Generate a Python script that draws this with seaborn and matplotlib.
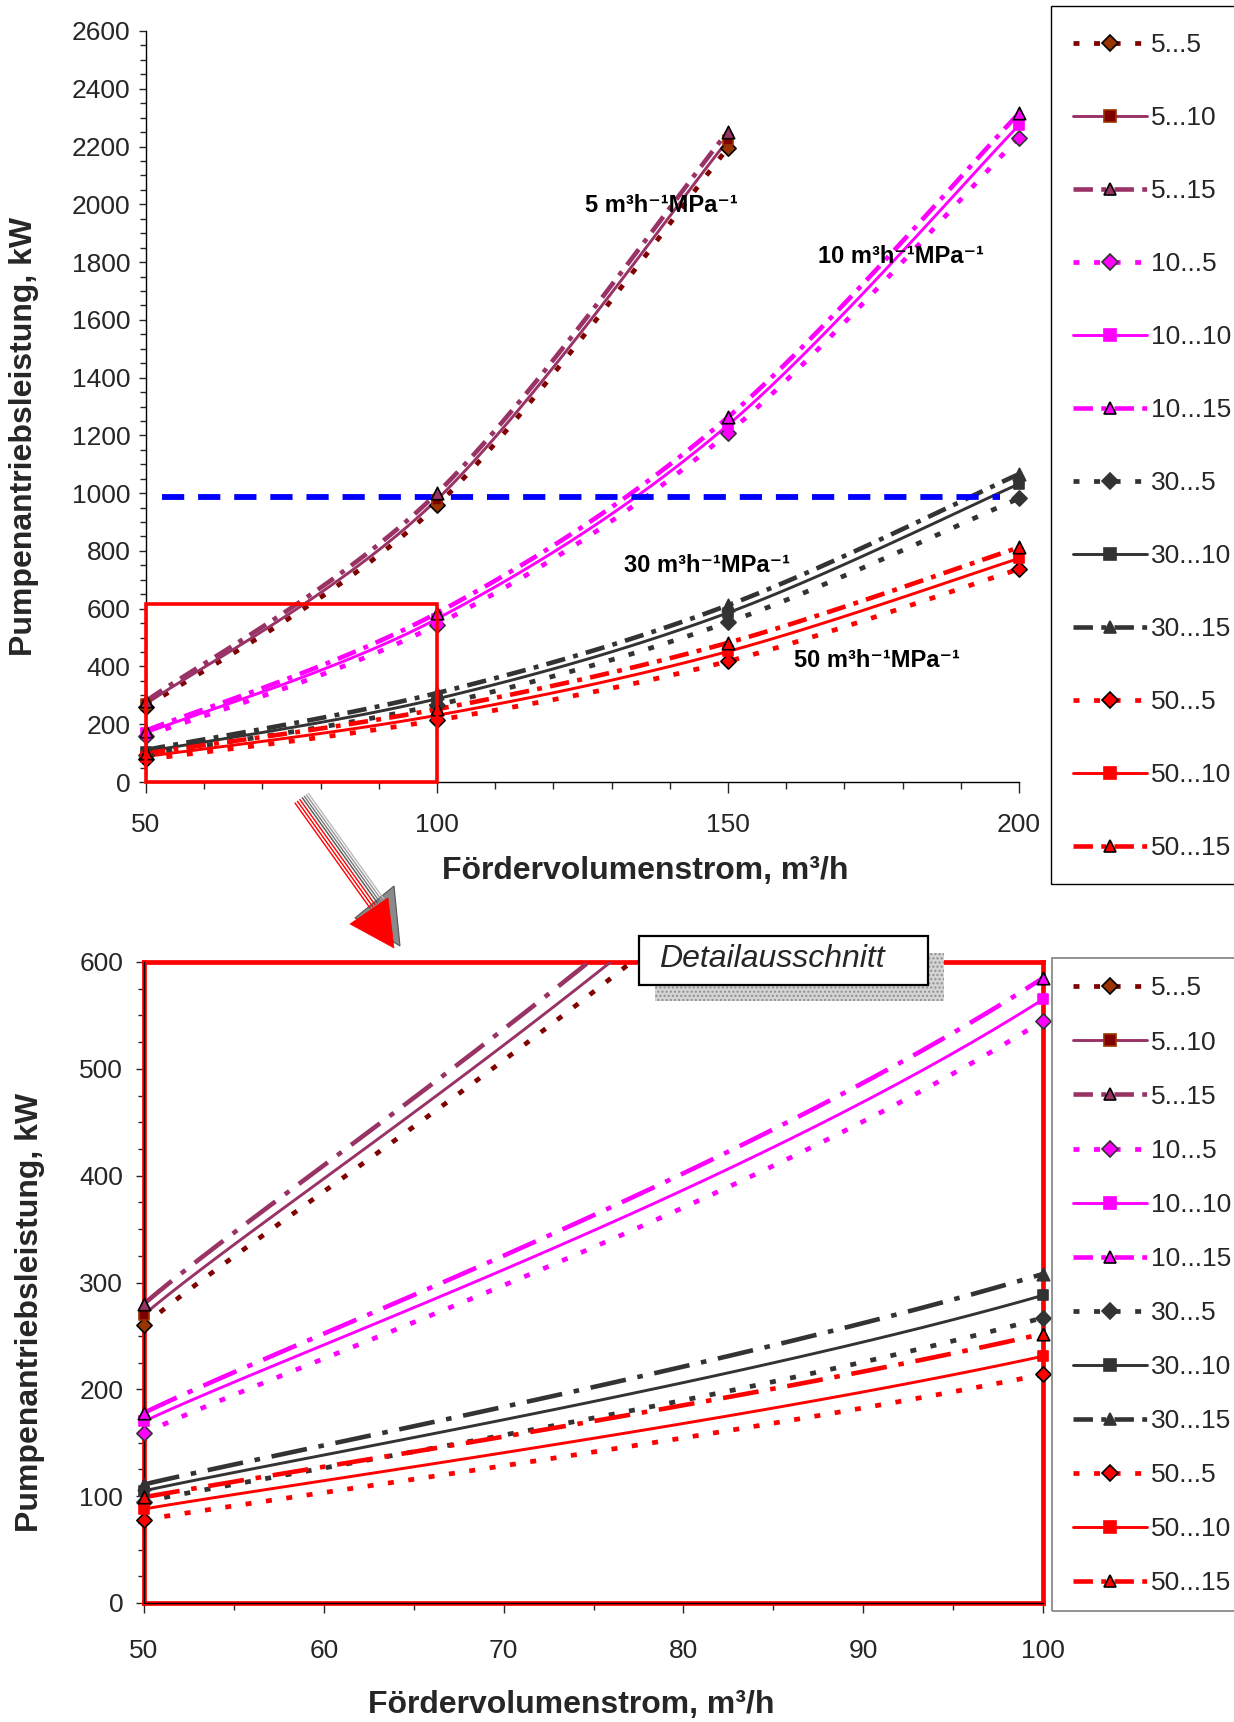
import numpy as np
import matplotlib
matplotlib.use("Agg")
import matplotlib.pyplot as plt
import seaborn as sns
from matplotlib.patches import Rectangle, Polygon
from matplotlib.lines import Line2D
from matplotlib.ticker import MultipleLocator

sns.set_style("ticks")
plt.rcParams['font.family'] = ['Liberation Sans', 'DejaVu Sans']
plt.rcParams['lines.scale_dashes'] = False

# Fördervolumenstrom, m³/h
flow = [50, 100, 150, 200]

# Pumpenantriebsleistung, kW  (Reihe: Durchlässigkeit ... Druck)
p_5_5 = [260, 958, 2195]
p_5_10 = [270, 978, 2222]
p_5_15 = [280, 1000, 2252]
p_10_5 = [159, 545, 1208, 2231]
p_10_10 = [170, 565, 1236, 2274]
p_10_15 = [178, 585, 1263, 2315]
p_30_5 = [95, 267, 553, 982]
p_30_10 = [105, 288, 586, 1032]
p_30_15 = [111, 308, 612, 1066]
p_50_5 = [78, 214, 418, 737]
p_50_10 = [88, 231, 452, 774]
p_50_15 = [99, 252, 482, 812]

series_labels = ["5...5", "5...10", "5...15", "10...5", "10...10", "10...15",
                 "30...5", "30...10", "30...15", "50...5", "50...10", "50...15"]
series_values = [p_5_5, p_5_10, p_5_15, p_10_5, p_10_10, p_10_15,
                 p_30_5, p_30_10, p_30_15, p_50_5, p_50_10, p_50_15]

group_labels = ["5 m³h⁻¹MPa⁻¹", "10 m³h⁻¹MPa⁻¹", "30 m³h⁻¹MPa⁻¹", "50 m³h⁻¹MPa⁻¹"]
power_limit = 988

# ---- styles ---------------------------------------------------------------
MAROON, PLUM, MAG, GRAY, RED = '#800000', '#993366', '#FF00FF', '#333333', '#FF0000'

# line kinds: dotted (…5), solid (…10), dash-dot (…15)
LINE_TOP = {
    'dot': ((0, (4.3, 10.5)), 3.4),
    'solid': ('-', 2.1),
    'dashdot': ((0, (14, 6, 3.5, 6)), 3.3),
}
LINE_DETAIL = {
    'dot': ((0, (4.3, 10.5)), 3.4),
    'solid': ('-', 2.1),
    'dashdot': ((0, (26, 8.5, 4, 8.5)), 3.3),
}

styles = [
    (MAROON, 'dot', 'D', '#993300', 'black'),
    (PLUM, 'solid', 's', '#800000', '#993300'),
    (PLUM, 'dashdot', '^', PLUM, 'black'),
    (MAG, 'dot', 'D', MAG, GRAY),
    (MAG, 'solid', 's', MAG, MAG),
    (MAG, 'dashdot', '^', MAG, 'black'),
    (GRAY, 'dot', 'D', GRAY, GRAY),
    (GRAY, 'solid', 's', GRAY, GRAY),
    (GRAY, 'dashdot', '^', GRAY, GRAY),
    (RED, 'dot', 'D', RED, 'black'),
    (RED, 'solid', 's', RED, RED),
    (RED, 'dashdot', '^', RED, 'black'),
]
marker_size = {'D': 60, 's': 55, '^': 80}


def smooth_curve(x, y, steps=40):
    """Bezier smoothing through the points (spreadsheet style smoothed line)."""
    P = np.column_stack([x, y]).astype(float)
    ext = np.vstack([P[0], P, P[-1]])
    t = np.linspace(0, 1, steps)[1:, None]
    parts = [P[:1]]
    for i in range(len(P) - 1):
        p0, p1 = ext[i + 1], ext[i + 2]
        c1 = p0 + (ext[i + 2] - ext[i]) / 6.0
        c2 = p1 - (ext[i + 3] - ext[i + 1]) / 6.0
        parts.append((1 - t) ** 3 * p0 + 3 * (1 - t) ** 2 * t * c1
                     + 3 * (1 - t) * t ** 2 * c2 + t ** 3 * p1)
    pts = np.vstack(parts)
    return pts[:, 0], pts[:, 1]


W, H = 1234, 1722
fig = plt.figure(figsize=(W / 100, H / 100), dpi=100)


def fx(px):
    return px / W


def fy(py):
    return 1 - py / H


ax1 = fig.add_axes([fx(146), fy(782), fx(1019) - fx(146), fy(31) - fy(782)])
ax2 = fig.add_axes([fx(144), fy(1603), fx(1043) - fx(144), fy(962) - fy(1603)])


def draw_series(ax, ymax, kinds):
    for vals, (col, kind, mk, mface, medge) in zip(series_values, styles):
        ls, lw = kinds[kind]
        xs = flow[:len(vals)]
        sx, sy = smooth_curve(xs, vals)
        sns.lineplot(x=sx, y=sy, sort=False, estimator=None, color=col,
                     linewidth=lw, ax=ax, legend=False)
        ax.lines[-1].set_linestyle(ls)
        ax.lines[-1].set_zorder(3)
        keep = [(a, b) for a, b in zip(xs, vals) if b <= ymax]
        sns.scatterplot(x=[k[0] for k in keep], y=[k[1] for k in keep], marker=mk,
                        s=marker_size[mk], color=mface, edgecolor=medge,
                        linewidth=1.2, ax=ax, legend=False, zorder=5, clip_on=False)


# ---- Gesamtdiagramm ---------------------------------------------------------
draw_series(ax1, 2600, LINE_TOP)
ax1.hlines(power_limit, 52.7, 196.7, colors='#0000FF', linewidth=4.2,
           linestyles=(0, (16, 10)), zorder=4)
ax1.add_patch(Rectangle((50, 0), 50, 615, fill=False, edgecolor=RED,
                        linewidth=2.6, zorder=6, clip_on=False))
ax1.set_xlim(50, 200)
ax1.set_ylim(0, 2600)
ax1.xaxis.set_major_locator(MultipleLocator(50))
ax1.xaxis.set_minor_locator(MultipleLocator(10))
ax1.yaxis.set_major_locator(MultipleLocator(200))
ax1.yaxis.set_minor_locator(MultipleLocator(50))
ax1.tick_params(axis='x', which='major', length=8, width=1, pad=14, labelsize=19)
ax1.tick_params(axis='x', which='minor', length=5, width=1)
ax1.tick_params(axis='y', which='major', length=5, width=1, pad=6, labelsize=19)
ax1.tick_params(axis='y', which='minor', length=4, width=1)
for side in ('top', 'right'):
    ax1.spines[side].set_visible(False)
for side in ('left', 'bottom'):
    ax1.spines[side].set_color('black')
    ax1.spines[side].set_linewidth(1.0)
ax1.set_xlabel('')
ax1.set_ylabel('')

label_pos = [(125.4, 1996), (165.5, 1820), (132.1, 750), (161.3, 422)]
for txt, (x, y) in zip(group_labels, label_pos):
    ax1.text(x, y, txt, ha='left', va='center', fontsize=17, fontweight='bold',
             zorder=7, color='black')

# ---- Detailausschnitt -------------------------------------------------------
draw_series(ax2, 600, LINE_DETAIL)
ax2.set_xlim(50, 100)
ax2.set_ylim(0, 600)
ax2.xaxis.set_major_locator(MultipleLocator(10))
ax2.xaxis.set_minor_locator(MultipleLocator(5))
ax2.yaxis.set_major_locator(MultipleLocator(100))
ax2.yaxis.set_minor_locator(MultipleLocator(25))
ax2.tick_params(axis='x', which='major', length=7, width=1, pad=19, labelsize=19)
ax2.tick_params(axis='x', which='minor', length=5, width=1)
ax2.tick_params(axis='y', which='major', length=6, width=1, pad=9, labelsize=19)
ax2.tick_params(axis='y', which='minor', length=4, width=1)
for side in ax2.spines:
    ax2.spines[side].set_color(RED)
    ax2.spines[side].set_linewidth(3.4)
ax2.axvline(50, color='black', linewidth=1.0, zorder=2.7, clip_on=False)
ax2.axhline(0, color='black', linewidth=1.0, zorder=2.7, clip_on=False)
ax2.set_xlabel('')
ax2.set_ylabel('')

# ---- axis titles ------------------------------------------------------------
ylab = 'Pumpenantriebsleistung, kW'
xlab = 'Fördervolumenstrom, m³/h'
fig.text(fx(24), fy(436), ylab, rotation=90, ha='center', va='center',
         fontsize=23, fontweight='bold')
fig.text(fx(30), fy(1312), ylab, rotation=90, ha='center', va='center',
         fontsize=23, fontweight='bold')
fig.text(fx(645), fy(871), xlab, ha='center', va='center', fontsize=23,
         fontweight='bold')
fig.text(fx(571), fy(1705), xlab, ha='center', va='center', fontsize=23,
         fontweight='bold')

# ---- legends ----------------------------------------------------------------
handles = []
for (col, kind, mk, mface, medge) in styles:
    ls, lw = LINE_TOP[kind]
    handles.append(Line2D([0], [0], color=col, linestyle=ls, linewidth=lw,
                          marker=mk, markersize=8.5, markerfacecolor=mface,
                          markeredgecolor=medge, markeredgewidth=1.2))

fig.add_artist(Rectangle((fx(1051), fy(884)), fx(1240) - fx(1051), fy(5.5) - fy(884),
                         transform=fig.transFigure, fill=False, edgecolor='black',
                         linewidth=1.0))
fig.legend(handles, series_labels, loc='upper left',
           bbox_to_anchor=(fx(1073), fy(33.5)), frameon=False, fontsize=19,
           handlelength=2.8, handletextpad=0.15, labelspacing=1.855,
           borderpad=0, borderaxespad=0)

fig.add_artist(Rectangle((fx(1052), fy(1611)), fx(1240) - fx(1052), fy(958) - fy(1611),
                         transform=fig.transFigure, fill=False, edgecolor='#808080',
                         linewidth=1.2))
fig.legend(handles, series_labels, loc='upper left',
           bbox_to_anchor=(fx(1073), fy(976.5)), frameon=False, fontsize=19,
           handlelength=2.8, handletextpad=0.15, labelspacing=1.14,
           borderpad=0, borderaxespad=0)

# ---- arrow from the marked region to the detail chart -----------------------
tail = np.array([295.0, 803.0])
tip_base = np.array([370.0, 908.0])
d = (tip_base - tail) / np.linalg.norm(tip_base - tail)
perp = np.array([d[1], -d[0]])
for k, col in [(0, RED), (3, RED), (6, RED), (9, '#555555'), (11.5, '#777777'),
               (14, '#999999'), (16.5, '#bbbbbb')]:
    a = tail + perp * k
    b = tip_base + perp * k
    fig.add_artist(Line2D([fx(a[0]), fx(b[0])], [fy(a[1]), fy(b[1])],
                          transform=fig.transFigure, color=col, linewidth=1.0))
shadow = [(355, 918), (394, 886), (400, 946)]
head = [(350, 924), (388, 898), (394, 948)]
fig.add_artist(Polygon([(fx(x), fy(y)) for x, y in shadow], closed=True,
                       transform=fig.transFigure, facecolor='#8a8a8a',
                       edgecolor='#555555', linewidth=0.8))
fig.add_artist(Polygon([(fx(x), fy(y)) for x, y in head], closed=True,
                       transform=fig.transFigure, facecolor=RED, edgecolor=RED,
                       linewidth=0.5))

# ---- caption box ------------------------------------------------------------
fig.add_artist(Rectangle((fx(655), fy(1001)), fx(944) - fx(655), fy(953) - fy(1001),
                         transform=fig.transFigure, facecolor='#d4d4d4',
                         edgecolor='#8f8f8f', hatch='....', linewidth=0))
fig.add_artist(Rectangle((fx(639), fy(985)), fx(928) - fx(639), fy(936) - fy(985),
                         transform=fig.transFigure, facecolor='white',
                         edgecolor='black', linewidth=1.6))
fig.text(fx(659), fy(959), 'Detailausschnitt', ha='left', va='center',
         fontsize=23, fontstyle='italic')

fig.savefig('out.png', dpi=100)
